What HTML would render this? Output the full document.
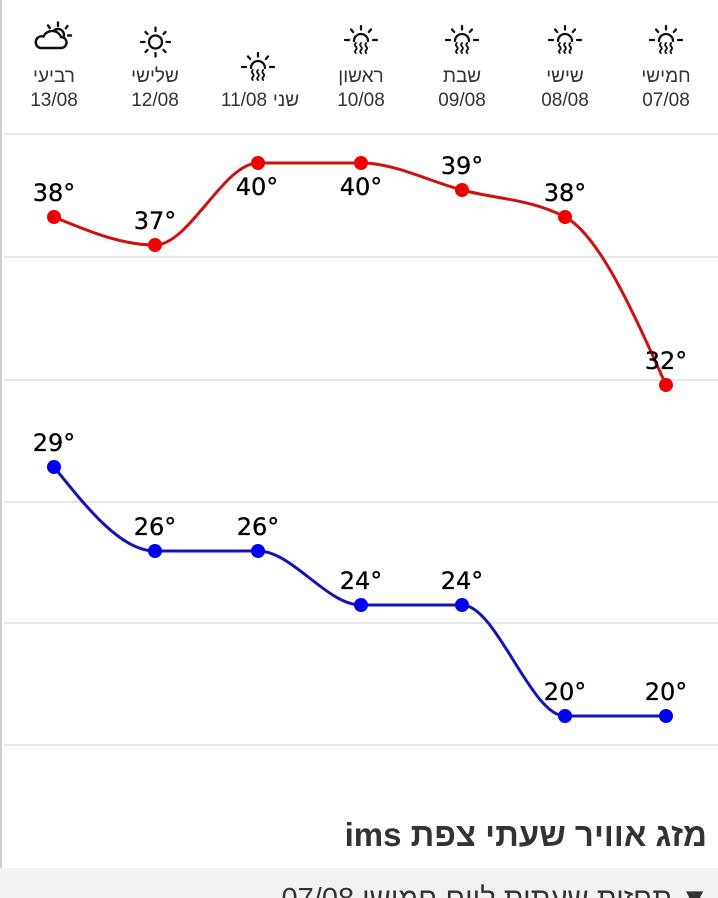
<!DOCTYPE html>
<html>
<head>
<meta charset="utf-8">
<style>
  html,body{margin:0;padding:0;background:#fff;}
  body{width:718px;height:898px;overflow:hidden;position:relative;}
  .title{position:absolute;right:11px;top:813px;font-family:"Liberation Sans","DejaVu Sans",sans-serif;font-weight:bold;font-size:33px;color:#333;white-space:nowrap;direction:rtl;line-height:44px;}
  .bar{position:absolute;left:0;top:868px;width:718px;height:30px;background:#f2f2f2;overflow:hidden;}
  .bartxt{position:absolute;right:9px;top:15px;font-family:"Liberation Sans","DejaVu Sans",sans-serif;font-size:29px;color:#333;white-space:nowrap;direction:rtl;line-height:32px;}
</style>
</head>
<body>
<svg width="718" height="898" viewBox="0 0 718 898" style="position:absolute;left:0;top:0" xmlns="http://www.w3.org/2000/svg">
  <!-- left border -->
  <rect x="0" y="0" width="2" height="868" fill="#cfcfcf"/>
  <!-- gridlines -->
  <g fill="#e8e8e8">
    <rect x="4" y="133" width="714" height="2"/>
    <rect x="4" y="256" width="714" height="2"/>
    <rect x="4" y="379" width="714" height="2"/>
    <rect x="4" y="501" width="714" height="2"/>
    <rect x="4" y="622" width="714" height="2"/>
    <rect x="4" y="744" width="714" height="2"/>
  </g>

  <!-- header text -->
  <g font-family="Liberation Sans, DejaVu Sans, sans-serif" font-size="19" fill="#333" text-anchor="middle">
    <text x="54" y="82">רביעי</text>
    <text x="54" y="106">13/08</text>
    <text x="155" y="82">שלישי</text>
    <text x="155" y="106">12/08</text>
    <text x="244" y="106">11/08</text>
    <text x="286" y="106">שני</text>
    <text x="361" y="82">ראשון</text>
    <text x="361" y="106">10/08</text>
    <text x="462" y="82">שבת</text>
    <text x="462" y="106">09/08</text>
    <text x="565" y="82">שישי</text>
    <text x="565" y="106">08/08</text>
    <text x="666" y="82">חמישי</text>
    <text x="666" y="106">07/08</text>
  </g>

  <!-- icons -->
  <defs>
    <g id="haze" fill="none" stroke="#111" stroke-width="2.3" stroke-linecap="round">
      <line x1="0" y1="-14" x2="0" y2="-10.5"/>
      <line x1="-10" y1="-10.5" x2="-7.8" y2="-8"/>
      <line x1="10" y1="-10.5" x2="7.8" y2="-8"/>
      <line x1="-16" y1="0" x2="-12" y2="0"/>
      <line x1="12" y1="0" x2="16" y2="0"/>
      <path d="M-7,1 A7,7 0 0 1 7,1"/>
      <path d="M-5.2,3 q-1.8,1.8 0,3.5 q1.8,1.8 0,3.5 q-1.6,1.6 0,3" stroke-width="1.9"/>
      <path d="M0,3 q-1.8,1.8 0,3.5 q1.8,1.8 0,3.5 q-1.6,1.6 0,3" stroke-width="1.9"/>
      <path d="M5.2,3 q-1.8,1.8 0,3.5 q1.8,1.8 0,3.5 q-1.6,1.6 0,3" stroke-width="1.9"/>
    </g>
  </defs>
  <use href="#haze" x="258" y="67"/>
  <use href="#haze" x="361" y="40"/>
  <use href="#haze" x="462" y="40"/>
  <use href="#haze" x="565" y="40"/>
  <use href="#haze" x="666" y="40"/>

  <!-- sun -->
  <g fill="none" stroke="#111" stroke-width="2.3" stroke-linecap="round" transform="translate(155.5,42)">
    <circle cx="0" cy="0" r="6.5"/>
    <line x1="0" y1="-14.5" x2="0" y2="-11"/>
    <line x1="0" y1="11" x2="0" y2="14.5"/>
    <line x1="-14.5" y1="0" x2="-11" y2="0"/>
    <line x1="11" y1="0" x2="14.5" y2="0"/>
    <line x1="-10" y1="-10" x2="-8" y2="-8"/>
    <line x1="10" y1="-10" x2="8" y2="-8"/>
    <line x1="-10" y1="10" x2="-8" y2="8"/>
    <line x1="10" y1="10" x2="8" y2="8"/>
  </g>

  <!-- cloud + sun -->
  <g fill="none" stroke="#111" stroke-width="2.4" stroke-linecap="round">
    <circle cx="58" cy="35" r="6"/>
    <line x1="58" y1="22.5" x2="58" y2="26"/>
    <line x1="48" y1="25.5" x2="49.8" y2="28"/>
    <line x1="67.5" y1="26" x2="65.8" y2="28.3"/>
    <line x1="68" y1="35.5" x2="71" y2="35.5"/>
    <line x1="66.5" y1="43.5" x2="64.8" y2="41.8"/>
    <path d="M40,48 H61 A5.5,5.5 0 0 0 61,37 A9.5,9.5 0 0 0 43.5,36.5 A5.8,5.8 0 0 0 40,48 Z" fill="#fff"/>
  </g>

  <!-- red series -->
  <path d="M54,217 C87.7,231 121.3,245 155,245 C189.3,245 223.7,163 258,163 L361,163 C394.7,163 428.3,181.1 462,190 C496.3,199.1 530.7,199 565,217 C598.7,234.6 632.3,309.9 666,385"
        fill="none" stroke="#d01010" stroke-width="3"/>
  <g fill="#ee0000">
    <circle cx="54" cy="217" r="7"/>
    <circle cx="155" cy="245" r="7"/>
    <circle cx="258" cy="163" r="7"/>
    <circle cx="361" cy="163" r="7"/>
    <circle cx="462" cy="190" r="7"/>
    <circle cx="565" cy="217" r="7"/>
    <circle cx="666" cy="385" r="7"/>
  </g>

  <!-- blue series -->
  <path d="M54,467 C87.7,509 121.3,551 155,551 L258,551 C292.3,551 326.7,605 361,605 L462,605 C496.3,605 530.7,716 565,716 L666,716"
        fill="none" stroke="#1414b4" stroke-width="3"/>
  <g fill="#0000ee">
    <circle cx="54" cy="467" r="7"/>
    <circle cx="155" cy="551" r="7"/>
    <circle cx="258" cy="551" r="7"/>
    <circle cx="361" cy="605" r="7"/>
    <circle cx="462" cy="605" r="7"/>
    <circle cx="565" cy="716" r="7"/>
    <circle cx="666" cy="716" r="7"/>
  </g>

  <!-- value labels -->
  <g font-family="DejaVu Sans, Liberation Sans, sans-serif" font-size="24" fill="#000" text-anchor="middle" stroke="#000" stroke-width="0.3">
    <text x="54" y="201">38°</text>
    <text x="155" y="229">37°</text>
    <text x="257" y="195">40°</text>
    <text x="361" y="195">40°</text>
    <text x="462" y="174">39°</text>
    <text x="565" y="201">38°</text>
    <text x="666" y="369">32°</text>

    <text x="54" y="451">29°</text>
    <text x="155" y="535">26°</text>
    <text x="258" y="535">26°</text>
    <text x="361" y="589">24°</text>
    <text x="462" y="589">24°</text>
    <text x="565" y="700">20°</text>
    <text x="666" y="700">20°</text>
  </g>
</svg>

<div class="title">מזג אוויר שעתי צפת ims</div>
<div class="bar"><div class="bartxt">▼ תחזית שעתית ליום חמישי 07/08</div></div>
</body>
</html>
